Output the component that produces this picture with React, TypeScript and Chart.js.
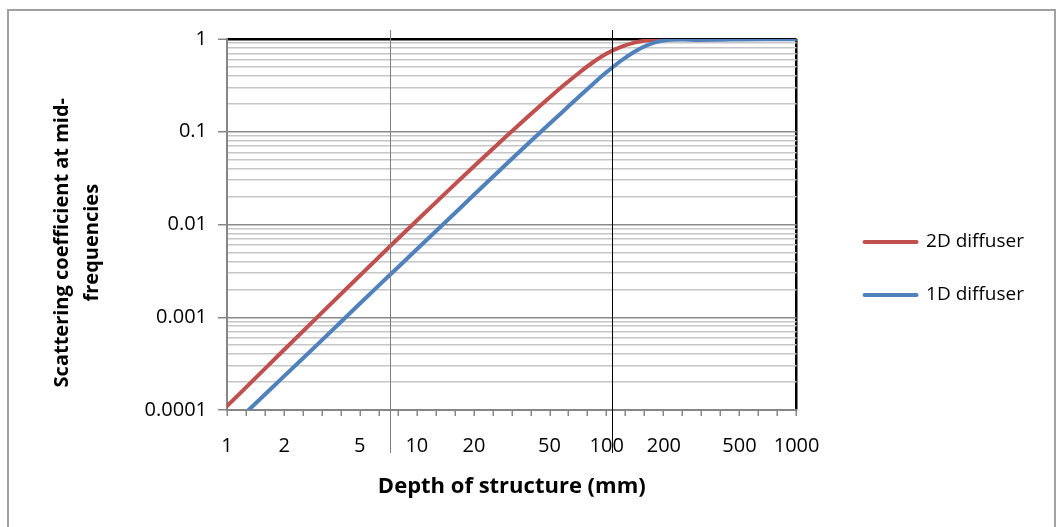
import { useEffect, useRef } from "react";
import { Chart, registerables } from "chart.js";

Chart.register(...registerables);

// Depth of structure (mm) and scattering coefficients
const depths2D = [1, 1.5, 2, 3, 5, 7, 10, 15, 20, 30, 40, 50, 60, 70, 85, 100, 120, 140, 160, 180, 200, 250, 300, 500, 1000];
const scatter2D = [0.00011, 0.0002495, 0.000446, 0.001008, 0.0028, 0.00547, 0.01104, 0.02434, 0.0424, 0.0917, 0.1565, 0.2344, 0.3225, 0.417, 0.565, 0.698, 0.829, 0.913, 0.96, 0.983, 0.991, 0.999, 1.0, 1.0, 1.0];

const depths1D = [1.3, 1.5, 2, 3, 5, 7, 10, 15, 20, 30, 40, 50, 60, 70, 85, 100, 120, 140, 160, 180, 200, 250, 300, 400, 500, 700, 1000];
const scatter1D = [0.0001, 0.000132, 0.000232, 0.00051, 0.0014, 0.0027, 0.0054, 0.0119, 0.0209, 0.046, 0.08, 0.122, 0.172, 0.23, 0.33, 0.44, 0.59, 0.73, 0.84, 0.92, 0.965, 0.985, 0.975, 0.98, 0.99, 0.995, 0.995];

const seriesLabels = ["2D diffuser", "1D diffuser"];

const xTickLabels = [1, 2, 5, 10, 20, 50, 100, 200, 500, 1000];
const yTickLabels = [0.0001, 0.001, 0.01, 0.1, 1];

// Depths of the two vertical guide lines drawn across the plot
const guideDepths = [7.2, 106];

const FONT = "'Open Sans', sans-serif";
const guideColors = ["#7f7f7f", "#000000"];

const guidePlugin = {
  id: "guides",
  afterLayout(chart: any) {
    const lg = chart.legend;
    if (lg) {
      lg.left += 34;
      lg.right += 34;
    }
  },
  afterDatasetsDraw(chart: any) {
    const { ctx, chartArea, scales } = chart;
    ctx.save();
    guideDepths.forEach((d, i) => {
      const x = Math.round(scales.x.getPixelForValue(d)) + 0.5;
      ctx.strokeStyle = guideColors[i];
      ctx.lineWidth = 1;
      ctx.beginPath();
      ctx.moveTo(x, chartArea.top - 9);
      ctx.lineTo(x, chartArea.bottom + 43);
      ctx.stroke();
    });
    ctx.restore();
  },
};

export default function App() {
  const ref = useRef<HTMLCanvasElement>(null);

  useEffect(() => {
    const xMinor: number[] = [];
    for (let k = 0; k <= 30; k++) xMinor.push(Math.pow(10, k / 10));
    const isMinorX = (v: number) => xMinor.some((m) => Math.abs(m - v) / v < 1e-9);
    const xMax = xTickLabels[xTickLabels.length - 1];

    const chart = new Chart(ref.current!, {
      type: "line",
      data: {
        datasets: [
          {
            label: seriesLabels[0],
            data: depths2D.map((d, i) => ({ x: d, y: scatter2D[i] })),
            borderColor: "#C0504D",
            backgroundColor: "#C0504D",
            borderWidth: 4,
            pointRadius: 0,
            cubicInterpolationMode: "monotone",
            borderCapStyle: "round",
            borderJoinStyle: "round",
            order: 1,
          },
          {
            label: seriesLabels[1],
            data: depths1D.map((d, i) => ({ x: d, y: scatter1D[i] })),
            borderColor: "#4F81BD",
            backgroundColor: "#4F81BD",
            borderWidth: 4,
            pointRadius: 0,
            cubicInterpolationMode: "monotone",
            borderCapStyle: "round",
            borderJoinStyle: "round",
            order: 0,
          },
        ],
      },
      options: {
        responsive: false,
        animation: false,
        devicePixelRatio: 1,
        layout: { padding: { left: 20, top: 39, right: 57, bottom: 29 } },
        plugins: {
          tooltip: { enabled: false },
          legend: {
            position: "right",
            align: "center",
            labels: {
              boxWidth: 52,
              boxHeight: 0,
              padding: 34,
              color: "#000",
              font: { family: FONT, size: 19 },
              sort: (a: any, b: any) => a.datasetIndex - b.datasetIndex,
            },
          },
        },
        scales: {
          x: {
            type: "logarithmic",
            min: 1,
            max: 1000,
            afterBuildTicks: (scale: any) => {
              const vals = [...xTickLabels];
              xMinor.forEach((m) => {
                if (!vals.some((v) => Math.abs(v - m) / m < 1e-9)) vals.push(m);
              });
              vals.sort((a, b) => a - b);
              scale.ticks = vals.map((v) => ({ value: v }));
            },
            afterFit: (scale: any) => {
              scale.height = 88;
            },
            ticks: {
              autoSkip: false,
              maxRotation: 0,
              minRotation: 0,
              padding: 18,
              color: "#000",
              font: { family: FONT, size: 20 },
              callback: (value: any) => (xTickLabels.includes(Number(value)) ? String(value) : ""),
            },
            grid: {
              drawOnChartArea: true,
              drawTicks: true,
              color: (ctx: any) => (ctx.tick && ctx.tick.value === xMax ? "#000000" : "rgba(0,0,0,0)"),
              lineWidth: 2.5,
              tickLength: 6,
              tickWidth: 1.5,
              tickColor: (ctx: any) => (ctx.tick && isMinorX(ctx.tick.value) ? "#868686" : "rgba(0,0,0,0)"),
            },
            border: { color: "#868686", width: 2 },
            title: {
              display: true,
              text: "Depth of structure (mm)",
              color: "#000",
              font: { family: FONT, size: 22, weight: "bold", lineHeight: 1 },
              padding: { top: 0, bottom: 0 },
            },
          },
          y: {
            type: "logarithmic",
            position: "left",
            min: 0.0001,
            max: 1,
            afterBuildTicks: (scale: any) => {
              const vals: number[] = [];
              for (let i = 0; i < yTickLabels.length - 1; i++) {
                const base = yTickLabels[i];
                vals.push(base);
                for (let k = 2; k <= 9; k++) vals.push(k * base);
              }
              vals.push(yTickLabels[yTickLabels.length - 1]);
              scale.ticks = vals.map((v) => ({ value: v }));
            },
            afterFit: (scale: any) => {
              scale.width = 207;
            },
            ticks: {
              autoSkip: false,
              padding: 11,
              color: "#000",
              font: { family: FONT, size: 20 },
              callback: (value: any) => (yTickLabels.includes(Number(value)) ? String(value) : ""),
            },
            grid: {
              color: (ctx: any) => {
                const v = ctx.tick ? ctx.tick.value : 0;
                if (v === 1) return "#000000";
                return yTickLabels.includes(v) ? "#8a8a8a" : "#c6c6c6";
              },
              lineWidth: (ctx: any) => {
                const v = ctx.tick ? ctx.tick.value : 0;
                return v === 1 ? 2.5 : 1.5;
              },
              tickLength: 9,
              tickWidth: 1.5,
              tickColor: (ctx: any) =>
                ctx.tick && yTickLabels.includes(ctx.tick.value) ? "#868686" : "rgba(0,0,0,0)",
            },
            border: { color: "#868686", width: 2 },
            title: {
              display: true,
              text: ["Scattering coefficient at mid-       ", "frequencies       "],
              color: "#000",
              font: { family: FONT, size: 20, weight: "bold", lineHeight: 1.5 },
              padding: { top: 27, bottom: 0 },
            },
          },
        },
      } as any,
      plugins: [guidePlugin],
    });
    return () => chart.destroy();
  }, []);

  return (
    <div style={{ position: "fixed", left: 0, top: 0, width: 1057, height: 527, overflow: "hidden", background: "#fff" }}>
      <div
        style={{
          position: "absolute",
          left: 7,
          top: 9,
          width: 1049,
          height: 600,
          border: "2px solid #a0a0a0",
          boxSizing: "border-box",
        }}
      />
      <canvas
        ref={ref}
        width={1057}
        height={527}
        style={{ position: "absolute", left: 0, top: 0, width: 1057, height: 527 }}
      />
    </div>
  );
}
